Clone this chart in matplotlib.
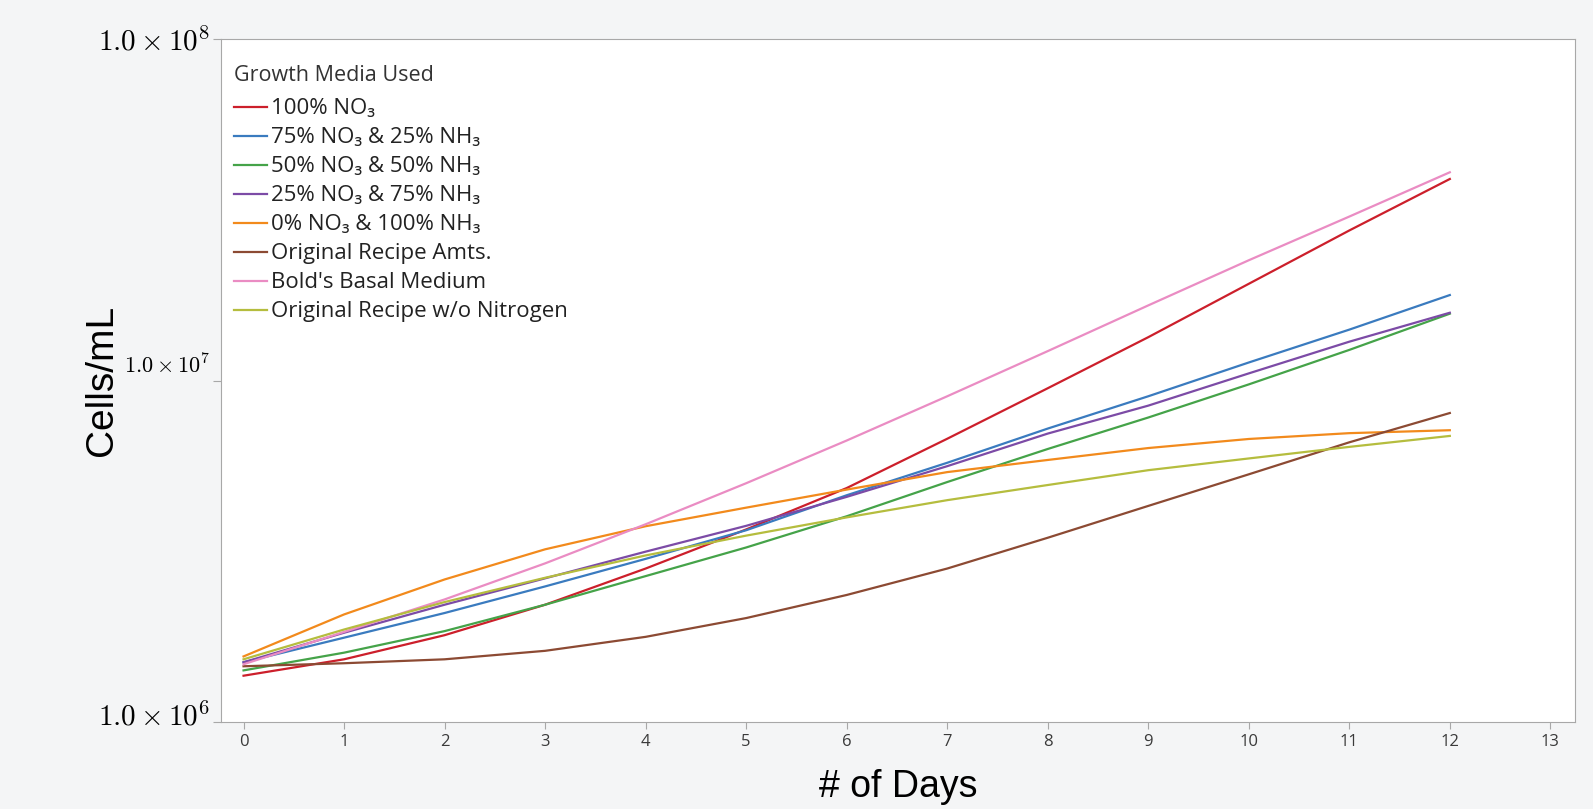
import numpy as np
import matplotlib
matplotlib.use("Agg")
import matplotlib.pyplot as plt
import matplotlib.transforms as mtransforms

plt.rcParams['mathtext.fontset'] = 'cm'

days = list(range(13))

# cells/mL in millions at each day
red = [1.37, 1.53, 1.80, 2.21, 2.82, 3.67, 4.85, 6.76, 9.50, 13.4, 19.2, 27.5, 38.9]
blue = [1.50, 1.77, 2.09, 2.50, 3.01, 3.65, 4.62, 5.75, 7.24, 9.00, 11.3, 14.1, 17.8]
green = [1.42, 1.60, 1.85, 2.21, 2.68, 3.25, 4.01, 5.05, 6.31, 7.80, 9.75, 12.3, 15.7]
purple = [1.50, 1.83, 2.21, 2.64, 3.16, 3.76, 4.57, 5.62, 7.00, 8.45, 10.5, 13.0, 15.8]
orange = [1.56, 2.07, 2.62, 3.21, 3.75, 4.25, 4.80, 5.40, 5.86, 6.35, 6.75, 7.02, 7.16]
brown = [1.46, 1.49, 1.53, 1.62, 1.78, 2.02, 2.36, 2.82, 3.47, 4.30, 5.32, 6.60, 8.04]
pink = [1.48, 1.84, 2.29, 2.92, 3.80, 5.01, 6.68, 9.00, 12.2, 16.6, 22.5, 30.2, 40.7]
olive = [1.53, 1.87, 2.25, 2.65, 3.08, 3.52, 3.98, 4.47, 4.95, 5.47, 5.92, 6.40, 6.89]

labels = ["100% NO\u2083",
          "75% NO\u2083 & 25% NH\u2083",
          "50% NO\u2083 & 50% NH\u2083",
          "25% NO\u2083 & 75% NH\u2083",
          "0% NO\u2083 & 100% NH\u2083",
          "Original Recipe Amts.",
          "Bold's Basal Medium",
          "Original Recipe w/o Nitrogen"]
series = [red, blue, green, purple, orange, brown, pink, olive]
colors = ['#cc1f2b', '#3a7bbf', '#45a349', '#7c4ba6', '#f28a1c', '#8c4a33', '#ea8cc3', '#b5bd3e']

yticks = [1e6, 1e7, 1e8]
ytick_labels = [r'$1.0\times10^{6}$', r'$1.0\times10^{7}$', r'$1.0\times10^{8}$']

fig = plt.figure(figsize=(15.93, 8.09), dpi=100, facecolor='#f4f5f6')
ax = fig.add_axes([0.139, 0.107, 0.85, 0.845])
ax.set_facecolor('white')

for vals, lab, c in zip(series, labels, colors):
    ax.plot(days, np.array(vals) * 1e6, color=c, lw=1.6, label=lab)

ax.set_yscale('log')
ax.set_ylim(1e6, 1e8)
ax.set_xlim(-0.22, 13.25)
ax.set_xticks(range(14))
ax.set_yticks(yticks)
ax.set_yticklabels(ytick_labels)
ax.minorticks_off()

for s in ax.spines.values():
    s.set_color('#a8a8a8')
ax.tick_params(axis='x', colors='#a8a8a8', labelcolor='#3a3a3a', labelsize=12, length=5)
ax.tick_params(axis='y', colors='#a8a8a8', labelcolor='black', labelsize=21, length=6, pad=2)
for lbl in ax.get_xticklabels():
    lbl.set_family(['Open Sans', 'DejaVu Sans'])

ylbls = ax.get_yticklabels()
ylbls[1].set_fontsize(16)
ylbls[1].set_transform(ylbls[1].get_transform() +
                       mtransforms.ScaledTranslation(0, 0.17, fig.dpi_scale_trans))
ylbls[0].set_transform(ylbls[0].get_transform() +
                       mtransforms.ScaledTranslation(0, 0.09, fig.dpi_scale_trans))

ax.set_ylabel('Cells/mL', fontsize=28, family=['Liberation Sans', 'DejaVu Sans'])
ax.yaxis.set_label_coords(-0.075, 0.5)
ax.set_xlabel('# of Days', fontsize=27, family=['Liberation Sans', 'DejaVu Sans'])
ax.xaxis.set_label_coords(0.5, -0.068)

leg = ax.legend(title='Growth Media Used', loc='upper left', bbox_to_anchor=(0.003, 0.975),
                frameon=False, prop={'family': ['Open Sans', 'DejaVu Sans'], 'size': 16},
                handlelength=1.45, handletextpad=0.2, labelspacing=0.36,
                borderaxespad=0, borderpad=0.4)
leg.get_title().set_family(['Open Sans', 'DejaVu Sans'])
leg.get_title().set_fontsize(15.5)
leg.get_title().set_color('#333333')
leg._legend_box.align = 'left'
leg._legend_box.sep = 9
for t in leg.get_texts():
    t.set_color('#222222')

fig.savefig('out.png', dpi=100, facecolor=fig.get_facecolor())
